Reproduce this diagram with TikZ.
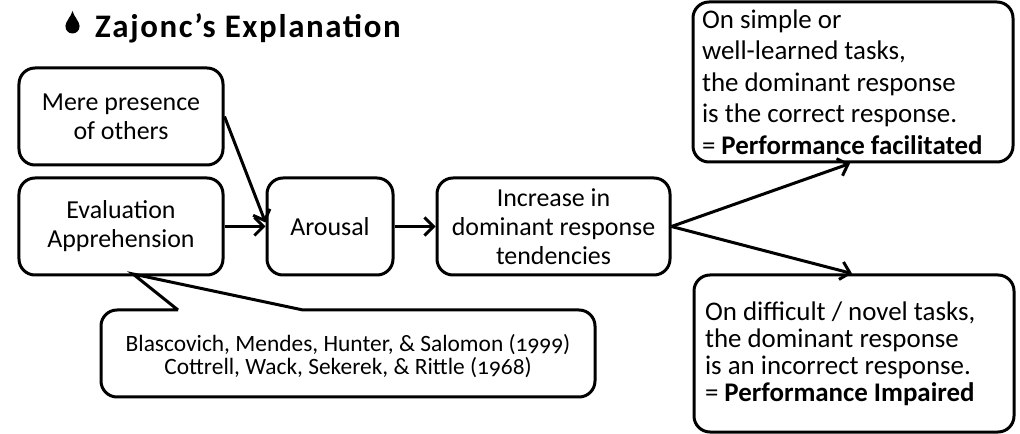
\documentclass[tikz,border=0pt]{standalone}
\usepackage{fontspec}
\setmainfont{Carlito}[Numbers=OldStyle]
\usetikzlibrary{arrows.meta}
\tikzset{
  box/.style={draw=black, line width=3bp, rounded corners=16bp, inner sep=0pt,
    align=center, font=\fontsize{26}{29}\selectfont},
  outcome/.style={box, align=flush left, minimum width=320bp, text width=302bp,
    inner xsep=8bp},
  link/.style={line width=3bp, -{Straight Barb[length=9bp,width=18bp,line width=3bp]}},
}
\begin{document}
\begin{tikzpicture}[x=1bp, y=-1bp]
\useasboundingbox (0,0) rectangle (1020,434);

% title with drop bullet
\fill (72.5,26.5) circle[radius=7];
\fill (72.5,11) .. controls (74,17) and (79.5,21) .. (79.5,26.5)
  -- (65.5,26.5) .. controls (65.5,21) and (71,17) .. (72.5,11);
\node[anchor=base west, inner sep=0pt,
  font=\fontsize{33}{36}\selectfont\bfseries\addfontfeature{LetterSpace=5}]
  (title) at (95,38) {Zajonc’s Explanation};

% causal chain
\node[box, minimum width=204bp, minimum height=97bp] (mere) at (121,116.5)
  {Mere presence\\of others};
\node[box, minimum width=204bp, minimum height=97bp] (eval) at (121,226.5)
  {Evaluation\\Apprehension};
\node[box, minimum width=126bp, minimum height=97bp] (arousal) at (330,226.5)
  {Arousal};
\node[box, minimum width=233bp, minimum height=97bp] (incr) at (553.5,226.5)
  {Increase in\\dominant response\\tendencies};

% outcomes
\node[outcome, minimum height=160bp, font=\fontsize{27}{31.5}\selectfont] (easy) at (853,82)
  {On simple or\\well-learned tasks,\\the dominant response\\is the correct response.\\= \textbf{Performance facilitated}};
\node[outcome, minimum height=157bp, font=\fontsize{27}{27}\selectfont, inner xsep=10bp,
  text width=298bp] (hard) at (854,353.5)
  {On difficult / novel tasks,\\the dominant response\\is an incorrect response.\\= \textbf{Performance Impaired}};

% references callout
\node[inner sep=0pt, align=center, font=\fontsize{23.5}{23}\selectfont] (cite) at (348,356)
  {Blascovich, Mendes, Hunter, \& Salomon (1999)\\Cottrell, Wack, Sekerek, \& Rittle (1968)};
\coordinate (tip) at (133,274);
\draw[line width=3bp, line join=miter]
  (178,310) -- (tip) -- (303,310)
  [rounded corners=16bp] -- (595,310) -- (595,397) -- (101,397) -- (101,310)
  [sharp corners] -- (178,310);

% connectors
\draw[link] (mere.east) -- ([yshift=4bp]arousal.west);
\draw[link] (eval.east) -- (arousal.west);
\draw[link] (arousal.east) -- (incr.west);
\draw[link] (incr.east) -- ([xshift=-3bp]easy.south);
\draw[link] (incr.east) -- ([xshift=-2bp]hard.north);
\end{tikzpicture}
\end{document}
